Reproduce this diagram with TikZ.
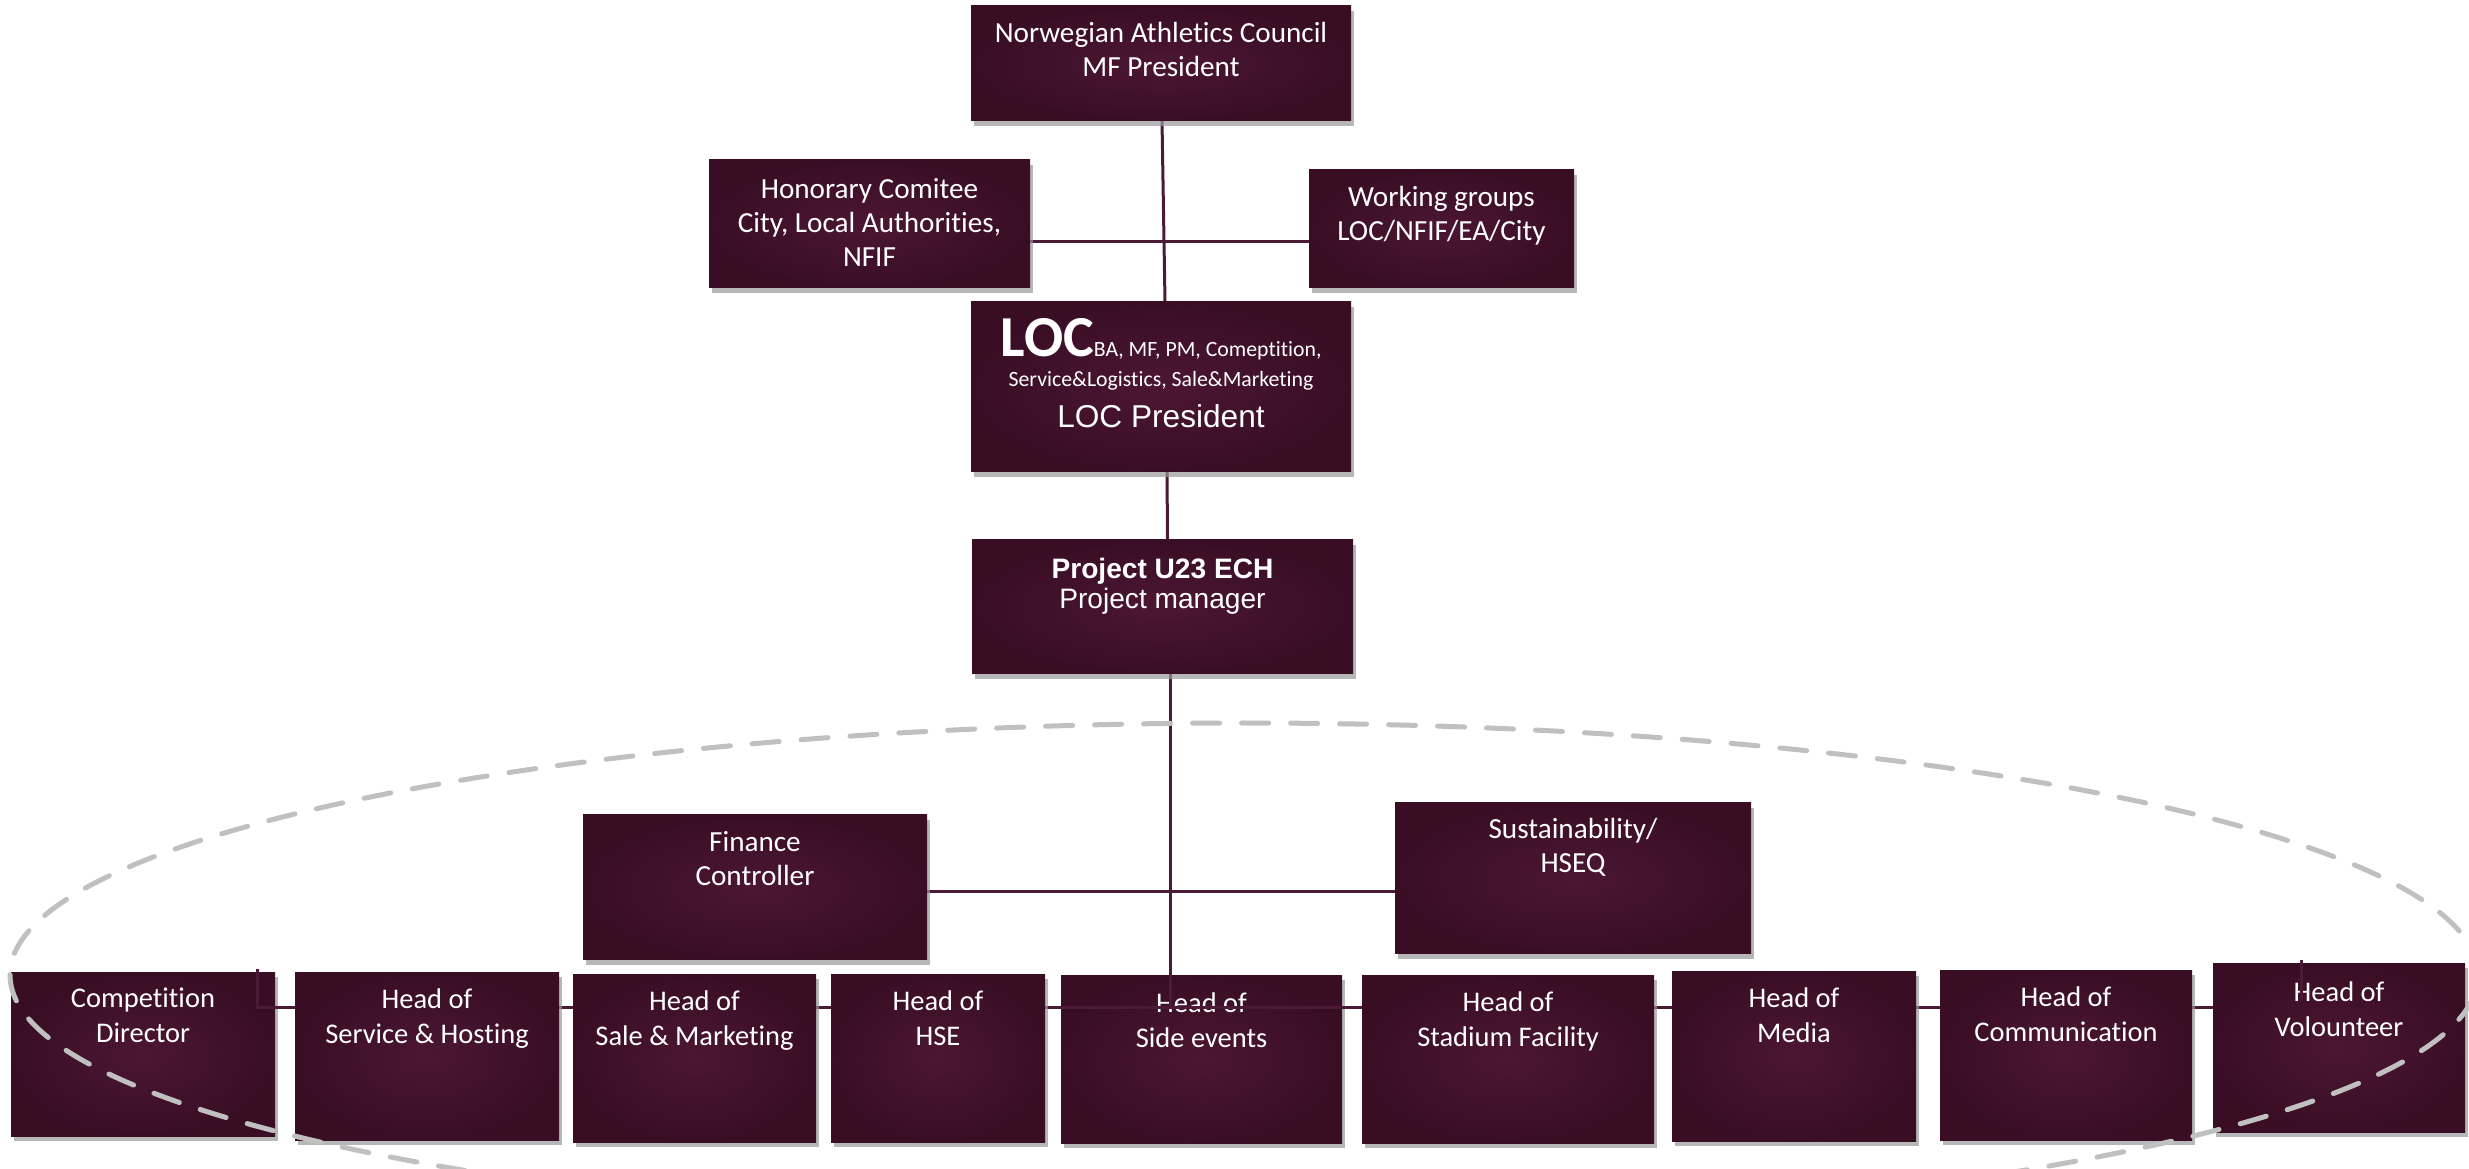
\documentclass[tikz,border=0pt]{standalone}
\usepackage{fontspec}
\setmainfont{Carlito}[Ligatures=NoCommon]
\newfontfamily\arialfont{Liberation Sans}
\usetikzlibrary{positioning, calc, shadows}

\definecolor{boxin}{RGB}{76,22,51}
\definecolor{boxout}{RGB}{57,14,37}
\definecolor{linecol}{RGB}{74,26,54}
\definecolor{ringcol}{RGB}{192,192,192}

\tikzset{
  orgbox/.style={inner color=boxin, outer color=boxout, inner sep=0pt, outer sep=0pt,
    drop shadow={shadow xshift=0.25mm, shadow yshift=-0.5mm, fill=black!40, opacity=0.7}},
  boxtext/.style={text=white, align=center, inner sep=0pt, font=\fontsize{8.3}{9.6}\selectfont},
  headtext/.style={boxtext, font=\fontsize{8.1}{10}\selectfont},
  orgline/.style={draw=linecol, line width=0.3mm},
}

\pgfdeclarelayer{background}
\pgfsetlayers{background,main}

\begin{document}
\begin{tikzpicture}[x=0.1mm, y=-0.1mm]
\useasboundingbox (0,0) rectangle (2469,1169);

\node[orgbox, minimum width=38mm, minimum height=11.5mm] (nac) at (1161,63.5) {};
\node[boxtext, below=1.6mm of nac.north] (nac-t) {Norwegian Athletics Council\\MF President};
\node[orgbox, minimum width=32.1mm, minimum height=12.8mm] (hon) at (869.5,224) {};
\node[boxtext, below=1.8mm of hon.north] (hon-t) {Honorary Comitee\\City, Local Authorities,\\NFIF};
\node[orgbox, minimum width=26.5mm, minimum height=11.8mm] (wg) at (1441.5,229) {};
\node[boxtext, below=1.6mm of wg.north] (wg-t) {Working groups\\LOC/NFIF/EA/City};
\node[orgbox, minimum width=38mm, minimum height=17mm] (loc) at (1161,387) {};
\node[boxtext, below=1.6mm of loc.north] (loc-t) {{\fontsize{16.5}{16.5}\selectfont\bfseries LOC}{\fontsize{6.2}{7}\selectfont BA, MF, PM, Comeptition,}\\[-1.1pt]
  {\fontsize{6.2}{7}\selectfont Service\&Logistics, Sale\&Marketing}\\[2.1pt]
  {\arialfont\fontsize{9}{10}\selectfont LOC President}};
\node[orgbox, minimum width=38.1mm, minimum height=13.4mm] (pm) at (1162.5,607) {};
\node[boxtext, font=\arialfont\fontsize{8}{8.8}\selectfont, below=1.7mm of pm.north] (pm-t) {\textbf{Project U23 ECH}\\Project manager};

\node[orgbox, minimum width=34.4mm, minimum height=14.5mm] (fin) at (755,887.5) {};
\node[boxtext, below=1.6mm of fin.north] (fin-t) {Finance\\Controller};
\node[orgbox, minimum width=35.6mm, minimum height=15.1mm] (sus) at (1573,878.5) {};
\node[boxtext, below=1.5mm of sus.north] (sus-t) {Sustainability/\\HSEQ};

\node[orgbox, minimum width=26.4mm, minimum height=16.8mm] (serv) at (427,1056) {};
\node[headtext, below=1.6mm of serv.north] (serv-t) {Head of\\Service \& Hosting};
\node[orgbox, minimum width=24.3mm, minimum height=16.8mm] (sale) at (694.5,1058) {};
\node[headtext, below=1.6mm of sale.north] (sale-t) {Head of\\Sale \& Marketing};
\node[orgbox, minimum width=21.4mm, minimum height=16.8mm] (hse) at (938,1058) {};
\node[headtext, below=1.6mm of hse.north] (hse-t) {Head of\\HSE};
\node[orgbox, minimum width=29.2mm, minimum height=16.8mm] (stad) at (1508,1059) {};
\node[headtext, below=1.6mm of stad.north] (stad-t) {Head of\\Stadium Facility};
\node[orgbox, minimum width=24.4mm, minimum height=17mm] (media) at (1794,1056) {};
\node[headtext, below=1.6mm of media.north] (media-t) {Head of\\Media};
\node[orgbox, minimum width=25.2mm, minimum height=17mm] (comm) at (2066,1055) {};
\node[headtext, below=1.6mm of comm.north] (comm-t) {Head of\\Communication};

\begin{pgfonlayer}{background}
\node[orgbox, minimum width=26.4mm, minimum height=16.4mm] (comp) at (143,1054) {};
\node[headtext, below=1.5mm of comp.north] (comp-t) {Competition\\Director};
\node[orgbox, minimum width=28.1mm, minimum height=16.8mm] (side) at (1201.5,1059) {};
\node[headtext, below=1.7mm of side.north] (side-t) {Head of\\Side events};
\node[orgbox, minimum width=25.2mm, minimum height=16.9mm] (vol) at (2339,1047.5) {};
\node[headtext, below=1.8mm of vol.north] (vol-t) {Head of\\Volounteer};

\coordinate (busl) at ([xshift=-1.8mm, yshift=-3.5mm]comp.north east);
\coordinate (vstub) at ([xshift=-3.8mm, yshift=0.3mm]vol.north);
\draw[orgline] ([xshift=0.1mm]nac.south) -- ([xshift=0.4mm]loc.north);
\draw[orgline] ([yshift=-1.8mm]hon.east) -- ([yshift=-1.8mm]hon.east -| wg.west);
\draw[orgline] ([xshift=0.6mm]loc.south) -- ([xshift=0.5mm]pm.north);
\draw[orgline] ([xshift=0.8mm]pm.south) -- ([xshift=0.8mm]pm.south |- busl);
\draw[orgline] ([yshift=-0.45mm]fin.east) -- ([yshift=-0.45mm]fin.east -| sus.west);
\draw[orgline] ([xshift=-1.8mm, yshift=0.3mm]comp.north east) -- (busl) -- (busl -| vol.west);
\draw[orgline] (vstub) -- ([yshift=0.6mm]vstub |- busl);
\end{pgfonlayer}

\coordinate (ring) at (1244,975);
\clip (0,0) rectangle (2469,1169);
\draw[ringcol, line width=0.5mm, dash pattern=on 2.7mm off 2.2mm, line cap=round] (ring) ellipse [x radius=123.4mm, y radius=25.2mm];
\end{tikzpicture}
\end{document}
